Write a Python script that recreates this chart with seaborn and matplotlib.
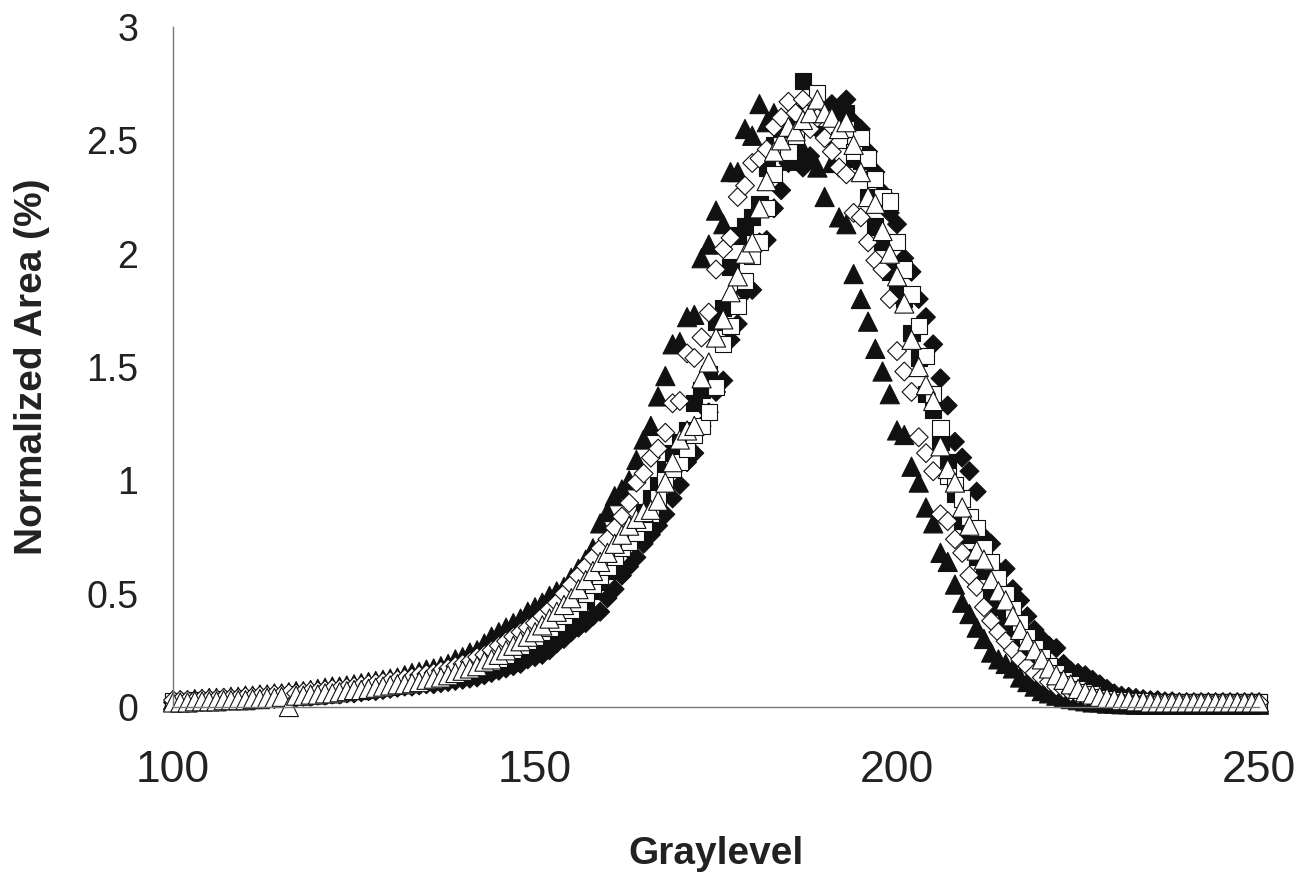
import numpy as np
import pandas as pd
import seaborn as sns
import matplotlib.pyplot as plt

# graylevel histogram, one point per level for each sample
graylevel = list(range(100, 251))

filled_triangle = [
    .03, .03, .03, .035, .035, .04, .04, .04, .045, .045,
    .05, .05, .055, .055, .06, .06, .065, .07, .07, .075,
    .08, .085, .09, .09, .095, .10, .105, .11, .115, .12,
    .125, .13, .14, .15, .155, .165, .17, .18, .19, .21,
    .22, .24, .25, .28, .31, .33, .35, .37, .39, .42,
    .44, .46, .49, .51, .53, .57, .61, .65, .70, .81,
    .86, .93, .96, 1.00, 1.09, 1.18, 1.24, 1.37, 1.46, 1.60,
    1.61, 1.72, 1.73, 1.98, 2.04, 2.19, 2.13, 2.36, 2.36, 2.55,
    2.52, 2.66, 2.58, 2.62, 2.60, 2.41, 2.50, 2.46, 2.42, 2.38,
    2.25, 2.40, 2.16, 2.13, 1.91, 1.80, 1.70, 1.58, 1.48, 1.38,
    1.22, 1.20, 1.06, .99, .88, .81, .68, .64, .54, .46,
    .41, .35, .30, .24, .21, .19, .17, .13, .11, .09,
    .07, .06, .05, .04, .035, .03, .025, .02, .02, .015,
    .015, .012, .012, .01, .01, .01, .01, .01, .01, .01,
    .01, .01, .01, .01, .01, .01, .01, .01, .01, .01, .01,
]

filled_diamond = [
    .02, .02, .02, .02, .025, .025, .025, .025, .03, .03,
    .03, .03, .035, .035, .035, .04, .04, .04, .045, .045,
    .05, .05, .055, .055, .06, .06, .065, .07, .07, .075,
    .08, .085, .09, .09, .095, .10, .10, .105, .11, .115,
    .12, .125, .13, .14, .15, .16, .17, .18, .19, .21,
    .22, .23, .25, .28, .30, .33, .35, .37, .40, .42,
    .48, .52, .58, .62, .66, .72, .76, .80, .85, .92,
    .98, 1.08, 1.12, 1.24, 1.30, 1.39, 1.44, 1.62, 1.69, 1.83,
    1.84, 2.05, 2.06, 2.20, 2.28, 2.40, 2.41, 2.38, 2.43, 2.55,
    2.60, 2.66, 2.63, 2.68, 2.58, 2.55, 2.45, 2.36, 2.27, 2.18,
    2.13, 1.98, 1.92, 1.80, 1.72, 1.60, 1.45, 1.33, 1.17, 1.10,
    1.04, .95, .75, .72, .60, .61, .52, .47, .40, .34,
    .30, .27, .26, .19, .16, .15, .14, .12, .10, .08,
    .06, .05, .045, .04, .035, .03, .03, .025, .025, .02,
    .02, .02, .02, .02, .02, .02, .02, .02, .02, .02, .02,
]

filled_square = [
    .02, .02, .02, .025, .025, .025, .03, .03, .03, .03,
    .035, .035, .035, .04, .04, .045, .045, .05, .05, .055,
    .055, .06, .06, .065, .07, .07, .075, .08, .085, .09,
    .09, .095, .10, .105, .11, .115, .12, .125, .13, .14,
    .15, .16, .17, .18, .19, .20, .21, .23, .25, .26,
    .28, .30, .32, .34, .37, .40, .43, .47, .51, .55,
    .60, .64, .70, .74, .80, .86, .92, .98, 1.05, 1.12,
    1.17, 1.22, 1.34, 1.40, 1.47, 1.70, 1.76, 1.94, 2.08, 2.12,
    2.16, 2.22, 2.38, 2.48, 2.52, 2.58, 2.62, 2.76, 2.62, 2.58,
    2.55, 2.52, 2.50, 2.62, 2.42, 2.41, 2.25, 2.12, 2.05, 1.92,
    1.82, 1.80, 1.65, 1.54, 1.38, 1.31, 1.17, 1.08, .94, .82,
    .76, .66, .60, .50, .44, .38, .32, .27, .22, .18,
    .15, .12, .10, .08, .07, .055, .045, .04, .035, .03,
    .025, .025, .02, .02, .02, .02, .02, .02, .02, .02,
    .02, .02, .02, .02, .02, .02, .02, .02, .02, .02, .02,
]

open_square = [
    .025, .025, .025, .03, .03, .03, .03, .035, .035, .035,
    .04, .04, .04, .045, .045, .05, .05, .055, .055, .06,
    .06, .065, .065, .07, .075, .075, .08, .085, .09, .095,
    .10, .10, .105, .11, .115, .12, .125, .13, .14, .15,
    .16, .17, .18, .19, .20, .21, .23, .25, .27, .29,
    .31, .33, .35, .37, .40, .43, .46, .50, .54, .58,
    .62, .66, .70, .73, .77, .81, .85, .92, 1.00, 1.05,
    1.08, 1.14, 1.20, 1.24, 1.30, 1.41, 1.60, 1.68, 1.77, 1.88,
    1.99, 2.05, 2.20, 2.35, 2.48, 2.45, 2.52, 2.58, 2.62, 2.71,
    2.60, 2.55, 2.50, 2.55, 2.45, 2.51, 2.42, 2.33, 2.25, 2.23,
    2.05, 1.93, 1.82, 1.68, 1.55, 1.38, 1.23, 1.02, .98, .92,
    .84, .79, .70, .64, .57, .50, .43, .37, .31, .26,
    .22, .18, .15, .12, .10, .08, .065, .055, .045, .04,
    .035, .03, .03, .025, .025, .025, .02, .02, .02, .02,
    .02, .02, .02, .02, .02, .02, .02, .02, .02, .02, .02,
]

open_diamond = [
    .03, .03, .03, .03, .035, .035, .035, .04, .04, .04,
    .045, .045, .05, .05, .055, .055, .06, .06, .065, .07,
    .07, .075, .08, .08, .085, .09, .095, .10, .105, .11,
    .115, .12, .125, .13, .14, .145, .15, .16, .17, .18,
    .19, .20, .22, .23, .25, .27, .29, .31, .33, .35,
    .37, .40, .43, .46, .50, .54, .58, .62, .66, .70,
    .74, .79, .84, .90, .99, 1.03, 1.10, 1.14, 1.21, 1.34,
    1.35, 1.56, 1.54, 1.63, 1.74, 1.93, 2.02, 2.07, 2.25, 2.30,
    2.40, 2.42, 2.46, 2.56, 2.60, 2.67, 2.62, 2.68, 2.55, 2.60,
    2.51, 2.45, 2.38, 2.35, 2.18, 2.16, 2.05, 1.97, 1.93, 1.80,
    1.57, 1.48, 1.39, 1.19, 1.12, 1.04, .85, .82, .74, .68,
    .58, .53, .44, .38, .33, .29, .25, .21, .18, .15,
    .13, .11, .09, .08, .065, .055, .045, .04, .035, .03,
    .025, .025, .025, .02, .02, .02, .02, .02, .02, .02,
    .02, .02, .02, .02, .02, .02, .02, .02, .02, .02, .02,
]

open_triangle = [
    .02, .02, .02, .025, .025, .025, .025, .03, .03, .03,
    .03, .035, .035, .04, .04, .045, .0, .05, .05, .055,
    .055, .06, .06, .065, .07, .075, .075, .08, .085, .09,
    .095, .10, .10, .105, .11, .12, .125, .13, .14, .15,
    .16, .17, .18, .20, .21, .23, .25, .27, .29, .31,
    .33, .36, .39, .42, .45, .48, .52, .56, .60, .64,
    .68, .72, .76, .80, .83, .86, .87, .91, .99, 1.08,
    1.18, 1.22, 1.24, 1.45, 1.52, 1.63, 1.71, 1.83, 1.90, 2.00,
    2.05, 2.20, 2.32, 2.45, 2.50, 2.56, 2.54, 2.59, 2.62, 2.68,
    2.62, 2.60, 2.55, 2.58, 2.48, 2.36, 2.25, 2.22, 2.10, 2.00,
    1.90, 1.78, 1.62, 1.50, 1.42, 1.35, 1.15, 1.05, .99, .88,
    .80, .69, .65, .56, .51, .47, .40, .34, .29, .25,
    .21, .17, .14, .12, .10, .08, .065, .055, .045, .04,
    .035, .03, .03, .025, .025, .02, .02, .02, .02, .02,
    .02, .02, .02, .02, .02, .02, .02, .02, .02, .02, .02,
]

series_names = ['A', 'B', 'C', 'D', 'E', 'F']
series_values = [filled_triangle, filled_diamond, filled_square,
                 open_square, open_diamond, open_triangle]
y_ticks = [0, 0.5, 1, 1.5, 2, 2.5, 3]
y_tick_labels = ['0', '0.5', '1', '1.5', '2', '2.5', '3']
x_ticks = [100, 150, 200, 250]

frames = []
for name, vals in zip(series_names, series_values):
    frames.append(pd.DataFrame({'Graylevel': graylevel, 'area': vals, 'series': name}))
df = pd.concat(frames, ignore_index=True)

sns.set_style('white')
plt.rcParams['font.family'] = ['Liberation Sans', 'DejaVu Sans']

fig = plt.figure(figsize=(13.02, 8.74), dpi=100)
ax = fig.add_axes([0.1329, 0.1911, 0.8341, 0.7780])

ink = '#111111'
sns.scatterplot(data=df, x='Graylevel', y='area', hue='series', style='series', size='series',
                palette={'A': ink, 'B': ink, 'C': ink, 'D': 'white', 'E': 'white', 'F': 'white'},
                markers={'A': '^', 'B': 'D', 'C': 's', 'D': 's', 'E': 'D', 'F': '^'},
                sizes={'A': 190, 'B': 92, 'C': 135, 'D': 135, 'E': 92, 'F': 190},
                edgecolor=ink, linewidth=0.8, legend=False, clip_on=False, ax=ax)

ax.set_xlim(100, 250)
ax.set_ylim(0, 3)
ax.set_xticks(x_ticks)
ax.set_yticks(y_ticks)
ax.set_yticklabels(y_tick_labels)

for side in ['top', 'right']:
    ax.spines[side].set_visible(False)
for side in ['left', 'bottom']:
    ax.spines[side].set_color('#777777')
    ax.spines[side].set_linewidth(1.0)

ax.tick_params(axis='both', direction='inout', length=14, width=1.0, color='#555555')
ax.tick_params(axis='x', labelsize=32, pad=24, labelcolor='#222222')
ax.tick_params(axis='y', labelsize=27, pad=18, labelcolor='#222222')

ax.set_xlabel('Graylevel', fontsize=28, fontweight='bold', color='#222222')
ax.set_ylabel('Normalized Area (%)', fontsize=28, fontweight='bold', color='#222222')
ax.xaxis.set_label_coords(0.5, -0.19)
ax.yaxis.set_label_coords(-0.113, 0.5)
ax.xaxis.label.set_va('top')

fig.savefig('out.png', dpi=100)
